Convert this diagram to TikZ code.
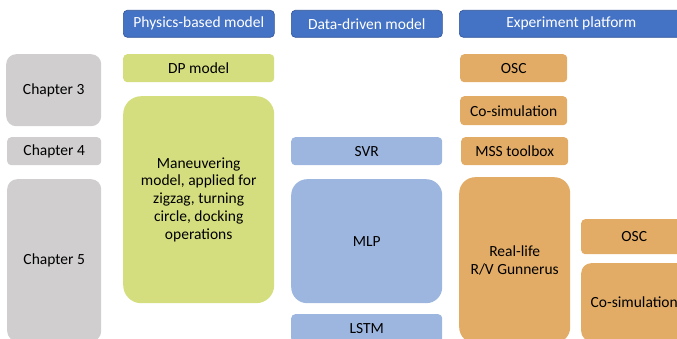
\documentclass[tikz,border=0pt]{standalone}
\usepackage{fontspec}
\setmainfont{Carlito}
\definecolor{hdrblue}{HTML}{4472C4}
\definecolor{hdredge}{HTML}{2F5597}
\definecolor{chapgray}{HTML}{D0CECE}
\definecolor{physgreen}{HTML}{D5DE7E}
\definecolor{datablue}{HTML}{9DB6DF}
\definecolor{expor}{HTML}{E2AC66}
\tikzset{
  x=1pt, y=-1pt,
  blk/.style={anchor=north west, inner sep=1pt, align=center,
    font=\fontsize{15.5}{17.8}\selectfont, text=black, rounded corners=4pt},
  hdr/.style={blk, fill=hdrblue, draw=hdredge, line width=0.6pt, text=white},
  chap/.style={blk, fill=chapgray},
  phys/.style={blk, fill=physgreen},
  data/.style={blk, fill=datablue},
  expt/.style={blk, fill=expor},
  sz/.style 2 args={minimum width=#1pt, minimum height=#2pt},
}
\begin{document}
\begin{tikzpicture}
\useasboundingbox (0,0) rectangle (677,339);
\clip (0,0) rectangle (677,339);
% column headers
\node[hdr, sz={151}{27}] (hphys) at (123,10) {Physics-based model};
\node[hdr, sz={151}{27}] (hdata) at (291,10) {Data-driven model};
\node[hdr, sz={224}{27}] (hexp) at (459,10) {Experiment platform};
% chapters
\node[chap, sz={95}{72}, rounded corners=10pt] (ch3) at (6,54) {Chapter 3};
\node[chap, sz={94}{28}] (ch4) at (7,137) {Chapter 4};
\node[chap, sz={94}{162}, rounded corners=10pt] (ch5) at (7,179) {Chapter 5};
% physics-based models
\node[phys, sz={151}{28}] (dp) at (123,54) {DP model};
\node[phys, sz={151}{207}, rounded corners=18pt] (man) at (123,96)
  {Maneuvering\\model, applied for\\zigzag, turning\\circle, docking\\operations};
% data-driven models
\node[data, sz={151}{28}] (svr) at (291,137) {SVR};
\node[data, sz={151}{124}, rounded corners=16pt] (mlp) at (291,179) {MLP};
\node[data, sz={151}{28}] (lstm) at (291,314) {LSTM};
% experiment platforms
\node[expt, sz={107}{28}] (osc1) at (460,54) {OSC};
\node[expt, sz={107}{29}] (cos1) at (460,96) {Co-simulation};
\node[expt, sz={107}{28}] (mss) at (461,137) {MSS toolbox};
\node[expt, sz={111}{166}, rounded corners=16pt] (real) at (459,177) {Real-life\\R/V Gunnerus};
\node[expt, sz={106}{35}] (osc2) at (581,219) {OSC};
\node[expt, sz={106}{78}, rounded corners=10pt] (cos2) at (581,263) {Co-simulation};
\end{tikzpicture}
\end{document}
